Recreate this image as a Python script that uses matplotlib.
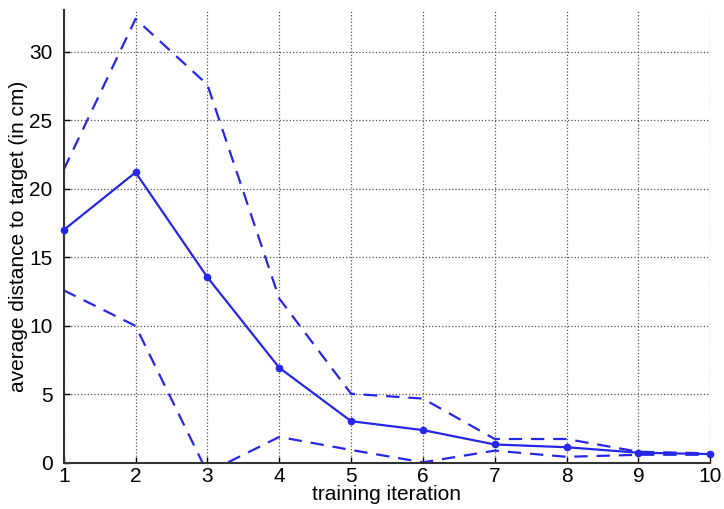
import numpy as np
import matplotlib.pyplot as plt

plt.rcParams['font.family'] = ['Liberation Sans', 'DejaVu Sans']

iterations = [1, 2, 3, 4, 5, 6, 7, 8, 9, 10]
mean_dist = [17.0, 21.2, 13.55, 6.95, 3.05, 2.4, 1.35, 1.15, 0.75, 0.65]
upper_dist = [21.4, 32.4, 27.6, 12.0, 5.05, 4.7, 1.75, 1.75, 0.82, 0.7]
lower_dist = [12.6, 10.0, -0.7, 1.9, 0.95, 0.05, 0.9, 0.45, 0.6, 0.6]

line_col = '#2626e6'

fig = plt.figure(figsize=(7.24, 5.09), dpi=100)
ax = fig.add_axes([0.088, 0.0904, 0.893, 0.89])

ax.plot(iterations, upper_dist, '--', color=line_col, lw=1.6, dashes=(6, 4))
ax.plot(iterations, lower_dist, '--', color=line_col, lw=1.6, dashes=(6, 4))
ax.plot(iterations, mean_dist, '-', color=line_col, lw=1.6,
        marker='o', markersize=4.5, clip_on=False, zorder=5)

ax.set_xlim(1, 10)
ax.set_ylim(0, 33.05)
ax.set_xticks(iterations)
ax.set_yticks([0, 5, 10, 15, 20, 25, 30])
ax.grid(True, linestyle=':', color='#555555', lw=0.9)

for s in ['top', 'right']:
    ax.spines[s].set_visible(False)
for s in ['left', 'bottom']:
    ax.spines[s].set_linewidth(1.5)
    ax.spines[s].set_color('#333333')
ax.tick_params(direction='in', length=4, width=1, labelsize=15)
ax.tick_params(axis='y', pad=8)
ax.tick_params(axis='x', pad=3)

ax.set_xlabel('training iteration', fontsize=15, labelpad=-1)
ax.set_ylabel('average distance to target (in cm)', fontsize=15, labelpad=1)

fig.savefig('out.png', dpi=100)
